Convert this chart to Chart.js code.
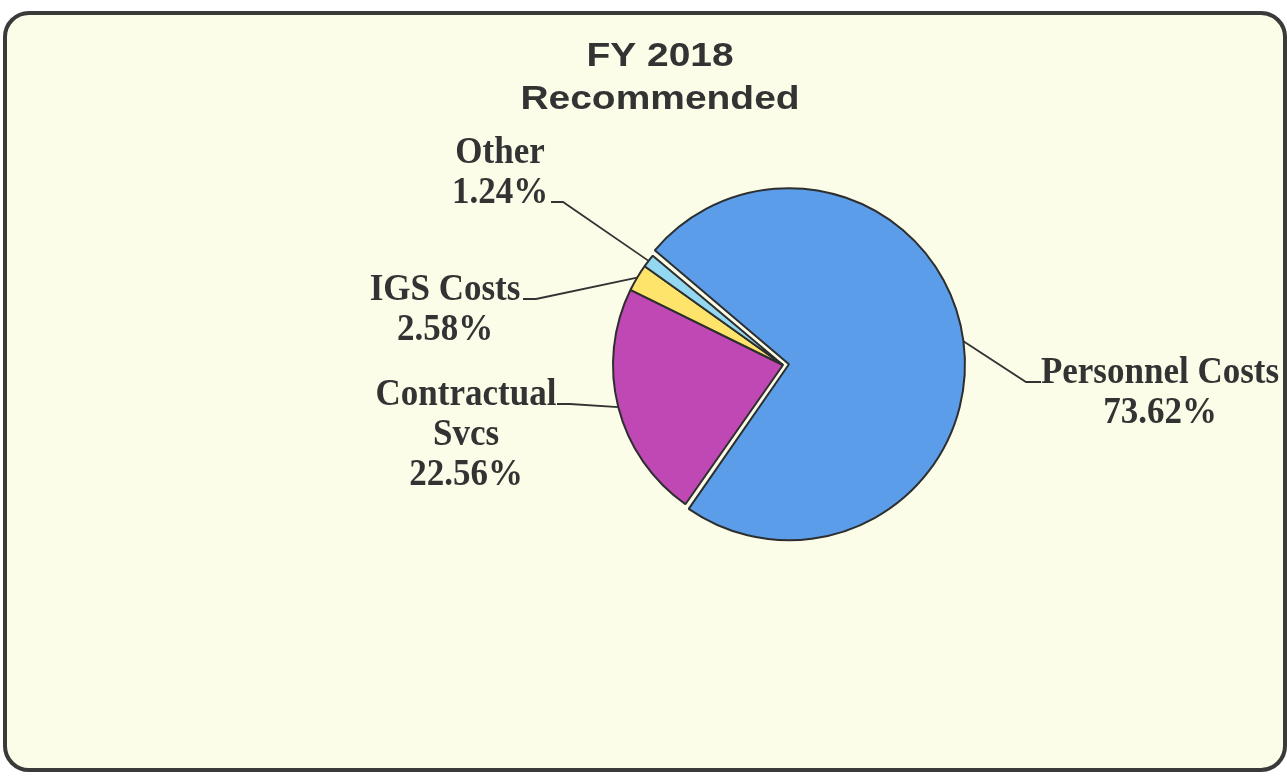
<!DOCTYPE html>
<html>
<head>
<meta charset="utf-8">
<title>FY 2018 Recommended</title>
<script src="https://cdn.jsdelivr.net/npm/chart.js@4.4.1/dist/chart.umd.min.js"></script>
<style>
    html, body { margin: 0; padding: 0; background: #ffffff; }
    #frame {
        position: absolute;
        left: 3px; top: 11px;
        width: 1276px; height: 753px;
        border: 4px solid #3a3a3a;
        border-radius: 26px;
        background: #fbfde8;
    }
    #wrap { position: absolute; left: 0; top: 0; width: 1287px; height: 776px; }
</style>
</head>
<body>
<div id="frame"></div>
<div id="wrap"><canvas id="budgetPie"></canvas></div>
<script>
// chart data
const categories = ['Personnel Costs', 'Contractual Svcs', 'IGS Costs', 'Other'];
const shares = [73.62, 22.56, 2.58, 1.24];
const labelLines = [['Personnel Costs'], ['Contractual', 'Svcs'], ['IGS Costs'], ['Other']];
const titleLines = ['FY 2018', 'Recommended'];

const sliceColors = ['#5b9de9', '#bf48b5', '#ffe46c', '#94d7f0'];
const ink = '#333333';

// label placement: centre x, first baseline, which line the leader leaves from, leader start + elbow
const labelLayout = [
    { cx: 1160, y: 383, from: 1026, to: 1041, line: 0 },
    { cx: 466, y: 405, from: 570, to: 557, line: 0 },
    { cx: 445, y: 300, from: 536, to: 523, line: 0 },
    { cx: 500, y: 163, from: 563, to: 551, line: 1 }
];

// text drawn with a little stretch to match the scanned original
function stretchText(ctx, text, x, y, sx, sy) {
    ctx.save();
    ctx.translate(x, y);
    ctx.scale(sx, sy);
    ctx.fillText(text, 0, 0);
    ctx.restore();
}

const calloutPlugin = {
    id: 'callouts',
    afterDraw(chart) {
        const ctx = chart.ctx;
        const arcs = chart.getDatasetMeta(0).data;
        ctx.save();

        // title
        ctx.fillStyle = ink;
        ctx.textAlign = 'center';
        ctx.textBaseline = 'alphabetic';
        ctx.font = "bold 33px 'Liberation Sans', Arial, sans-serif";
        titleLines.forEach((t, i) => stretchText(ctx, t, 660, 66 + i * 43, 1.18, 1));

        // slice labels with leader lines
        ctx.font = "bold 35px 'Liberation Serif', 'Times New Roman', serif";
        ctx.strokeStyle = ink;
        ctx.lineWidth = 1.8;
        arcs.forEach((arc, i) => {
            const lay = labelLayout[i];
            const lines = labelLines[i].concat(shares[i].toFixed(2) + '%');
            lines.forEach((t, j) => stretchText(ctx, t, lay.cx, lay.y + j * 40, 1, 1.08));

            const p = arc.getProps(['x', 'y', 'startAngle', 'endAngle', 'outerRadius', 'circumference'], true);
            const mid = (p.startAngle + p.endAngle) / 2;
            const shift = (arc.options.offset || 0) / 4;
            const grow = shift * (1 - Math.sin(Math.min(Math.PI, p.circumference || 0)));
            const r = p.outerRadius + shift + grow;
            const ex = p.x + Math.cos(mid) * r;
            const ey = p.y + Math.sin(mid) * r;
            const ly = lay.y + lay.line * 40 - 1;

            ctx.beginPath();
            ctx.moveTo(lay.to, ly);
            ctx.lineTo(lay.from, ly);
            ctx.lineTo(ex, ey);
            ctx.stroke();
        });
        ctx.restore();
    }
};

new Chart(document.getElementById('budgetPie'), {
    type: 'pie',
    data: {
        labels: categories,
        datasets: [{
            data: shares,
            backgroundColor: sliceColors,
            borderColor: '#2e2e2e',
            borderWidth: 2,
            offset: [24, 0, 0, 0]
        }]
    },
    options: {
        responsive: true,
        maintainAspectRatio: false,
        animation: false,
        rotation: 310,
        radius: 170,
        layout: { padding: { left: 279, right: 0, top: 0, bottom: 46 } },
        plugins: {
            legend: { display: false },
            title: { display: false },
            tooltip: { enabled: false }
        }
    },
    plugins: [calloutPlugin]
});
</script>
</body>
</html>
